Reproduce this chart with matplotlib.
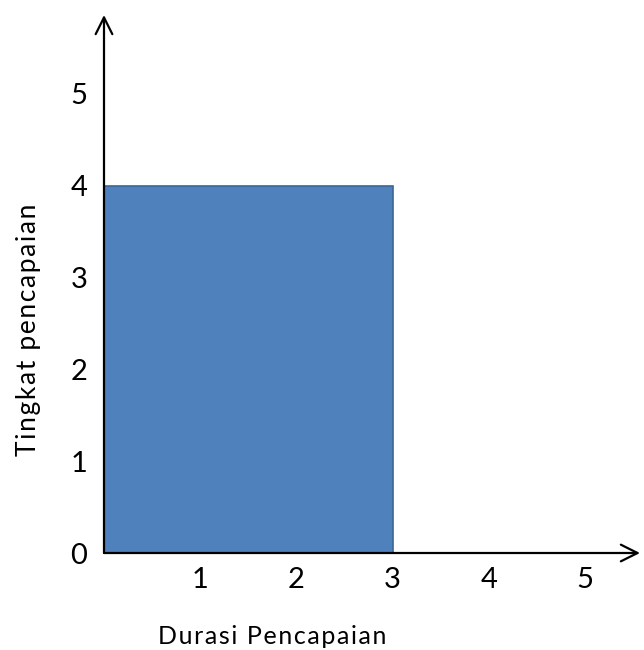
import matplotlib
matplotlib.use("Agg")
import matplotlib.pyplot as plt

# data
bar_start = [0]
bar_width = [3]
bar_height = [4]
x_ticks = [1, 2, 3, 4, 5]
y_ticks = [0, 1, 2, 3, 4, 5]
x_label = "Durasi Pencapaian"
y_label = "Tingkat pencapaian"

plt.rcParams['font.family'] = ['Lato', 'DejaVu Sans']


def spaced(text):
    # loose letter spacing like the original labels
    return '\u200a'.join(text)


fig = plt.figure(figsize=(6.44, 6.5), dpi=100)
ax = fig.add_axes([104 / 644, 97 / 650, 536 / 644, 538 / 650])

ax.bar(bar_start, bar_height, width=bar_width, align='edge',
       color='#4F81BD', edgecolor='#3B6796', linewidth=1.2, zorder=1)

ax.set_xlim(0, 5.57)
ax.set_ylim(0, 5.86)
ax.set_xticks(x_ticks)
ax.set_yticks(y_ticks)
ax.tick_params(length=0, labelsize=21)
ax.tick_params(axis='x', pad=10)
ax.tick_params(axis='y', pad=12)

for s in ax.spines.values():
    s.set_visible(False)

# axes drawn as open arrows
arrow = dict(arrowstyle='->', lw=1.6, color='black', mutation_scale=30,
             shrinkA=0, shrinkB=0)
ax.annotate('', xy=(1, 0), xytext=(0, 0), xycoords='axes fraction',
            arrowprops=arrow, zorder=3)
ax.annotate('', xy=(0, 1), xytext=(0, 0), xycoords='axes fraction',
            arrowprops=arrow, zorder=3)

fig.text(272 / 644, 1 - 636 / 650, spaced(x_label), ha='center', va='center',
         fontsize=18)
fig.text(29 / 644, 1 - 330 / 650, spaced(y_label), ha='center', va='center',
         rotation=90, fontsize=19)

fig.savefig('out.png', dpi=100)
